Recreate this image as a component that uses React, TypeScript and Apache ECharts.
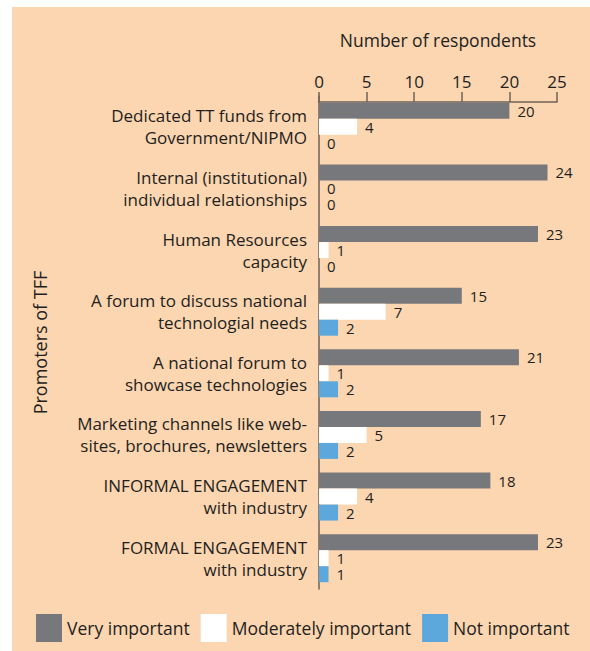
import React, { useEffect, useRef } from "react";
import * as echarts from "echarts";

const categories = [
  "Dedicated TT funds from\nGovernment/NIPMO",
  "Internal (institutional)\nindividual relationships",
  "Human Resources\ncapacity",
  "A forum to discuss national\ntechnologial needs",
  "A national forum to\nshowcase technologies",
  "Marketing channels like web-\nsites, brochures, newsletters",
  "INFORMAL ENGAGEMENT\nwith industry",
  "FORMAL ENGAGEMENT\nwith industry",
];
const veryImportant = [20, 24, 23, 15, 21, 17, 18, 23];
const moderatelyImportant = [4, 0, 1, 7, 1, 5, 4, 1];
const notImportant = [0, 0, 0, 2, 2, 2, 2, 1];
const seriesNames = ["Very important", "Moderately important", "Not important"];
const seriesColors = ["#77787b", "#ffffff", "#5ca8dc"];

const FONT = "Open Sans";
const TEXT = "#231f20";
const AXIS = "#6e6358";

export default function App() {
  const ref = useRef<HTMLDivElement>(null);
  useEffect(() => {
    if (!ref.current) return;
    const chart = echarts.init(ref.current, undefined, { renderer: "svg" });
    const values = [veryImportant, moderatelyImportant, notImportant];
    chart.setOption({
      animation: false,
      backgroundColor: "transparent",
      textStyle: { fontFamily: FONT, color: TEXT },
      grid: { left: 319, right: 33, top: 96, bottom: 62, containLabel: false },
      xAxis: {
        type: "value",
        position: "top",
        offset: -6,
        min: 0,
        max: 25,
        interval: 5,
        name: "Number of respondents",
        nameLocation: "middle",
        nameGap: 53,
        nameTextStyle: { fontSize: 17.5, color: TEXT, fontFamily: FONT },
        axisLine: { show: true, lineStyle: { color: AXIS, width: 1.5 } },
        axisTick: { show: true, length: 10, lineStyle: { color: AXIS, width: 1.5 } },
        axisLabel: { fontSize: 17, color: TEXT, margin: 12, fontFamily: FONT },
        splitLine: { show: false },
      },
      yAxis: {
        type: "category",
        inverse: true,
        data: categories,
        name: "Promoters of TFF",
        nameLocation: "middle",
        nameRotate: 90,
        nameGap: 270,
        nameTextStyle: { fontSize: 18, color: TEXT, fontFamily: FONT },
        axisLine: { show: true, lineStyle: { color: AXIS, width: 1.5 } },
        axisTick: { show: false },
        axisLabel: {
          fontSize: 17,
          lineHeight: 22,
          color: TEXT,
          margin: 12,
          align: "right",
          fontFamily: FONT,
        },
      },
      legend: {
        left: 36,
        top: 614,
        padding: 0,
        icon: "rect",
        itemWidth: 26,
        itemHeight: 28,
        itemGap: 11,
        textStyle: { fontSize: 17.5, color: TEXT, fontFamily: FONT },
        data: seriesNames,
      },
      series: seriesNames.map((name, i) => ({
        name,
        type: "bar",
        data: values[i],
        barWidth: 16,
        barGap: "0%",
        itemStyle: { color: seriesColors[i] },
        label: {
          show: true,
          position: "right",
          distance: 8,
          fontSize: 15,
          lineHeight: 14,
          color: TEXT,
          fontFamily: FONT,
        },
      })),
    });
    return () => chart.dispose();
  }, []);
  return (
    <div style={{ position: "fixed", left: 0, top: 0, width: 590, height: 651, background: "#ffffff" }}>
      <div style={{ position: "absolute", left: 12, top: 7, width: 578, height: 644, background: "#fcd5b1" }} />
      <div ref={ref} style={{ position: "absolute", left: 0, top: 0, width: 590, height: 651 }} />
    </div>
  );
}
